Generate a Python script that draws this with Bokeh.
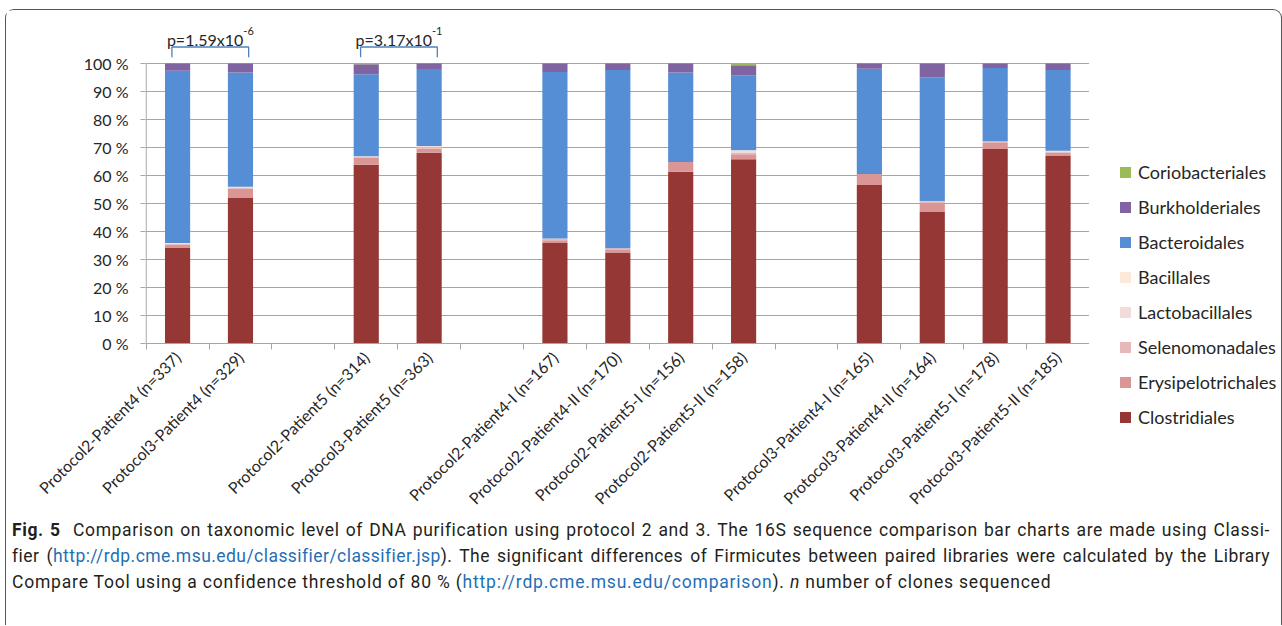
import math
from bokeh.plotting import figure
from bokeh.models import ColumnDataSource, FixedTicker, Range1d, Div
from bokeh.layouts import column, row
from bokeh.core.properties import value
from bokeh.embed import file_html
from bokeh.resources import INLINE

# ---------------- data ----------------
slot_labels = [
    "Protocol2-Patient4 (n=337)", "Protocol3-Patient4 (n=329)", "",
    "Protocol2-Patient5 (n=314)", "Protocol3-Patient5 (n=363)", "",
    "Protocol2-Patient4-I (n=167)", "Protocol2-Patient4-II (n=170)",
    "Protocol2-Patient5-I (n=156)", "Protocol2-Patient5-II (n=158)", "",
    "Protocol3-Patient4-I (n=165)", "Protocol3-Patient4-II (n=164)",
    "Protocol3-Patient5-I (n=178)", "Protocol3-Patient5-II (n=185)",
]

orders = ["Clostridiales", "Erysipelotrichales", "Selenomonadales", "Lactobacillales",
          "Bacillales", "Bacteroidales", "Burkholderiales", "Coriobacteriales"]
colors = ["#953735", "#d99694", "#e6b9b8", "#f2dcdb",
          "#fde9d9", "#558ed5", "#8064a2", "#9bbb59"]

clostridiales      = [34.1, 52.1, 63.8, 68.1, 35.9, 32.5, 61.3, 65.8, 56.6, 47.0, 69.5, 67.0]
erysipelotrichales = [1.2, 3.3, 2.6, 1.5, 1.0, 0.9, 3.5, 1.8, 3.9, 3.2, 2.1, 1.1]
selenomonadales    = [0.3, 0.3, 0.3, 0.6, 0.6, 0.6, 0.0, 0.6, 0.0, 0.3, 0.6, 0.5]
lactobacillales    = [0.3, 0.3, 0.2, 0.3, 0.0, 0.0, 0.0, 0.6, 0.0, 0.3, 0.0, 0.2]
bacillales         = [0.0, 0.0, 0.0, 0.0, 0.0, 0.0, 0.0, 0.2, 0.0, 0.0, 0.0, 0.0]
bacteroidales      = [61.5, 40.8, 29.3, 27.5, 59.5, 63.7, 32.0, 26.8, 37.6, 44.3, 26.2, 28.9]
burkholderiales    = [2.6, 3.2, 3.5, 2.0, 3.0, 2.3, 3.2, 3.6, 1.9, 4.9, 1.6, 2.3]
coriobacteriales   = [0.0, 0.0, 0.3, 0.0, 0.0, 0.0, 0.0, 0.6, 0.0, 0.0, 0.0, 0.0]

y_ticks = list(range(0, 101, 10))

# significance brackets: (bar index a, bar index b, mantissa, exponent)
p_pairs = [(0, 1, "1.59", "-6"), (2, 3, "3.17", "-1")]

# ---------------- main figure ----------------
bar_slots = [i for i, lab in enumerate(slot_labels) if lab]
xs = [i + 0.5 for i in bar_slots]

src = ColumnDataSource(dict(
    x=xs,
    Clostridiales=clostridiales, Erysipelotrichales=erysipelotrichales,
    Selenomonadales=selenomonadales, Lactobacillales=lactobacillales,
    Bacillales=bacillales, Bacteroidales=bacteroidales,
    Burkholderiales=burkholderiales, Coriobacteriales=coriobacteriales,
))

FONT = "Lato"
TXT = "#262626"
GRID = "#a6a6a6"
FIG_H = 518

p = figure(width=1083, height=FIG_H, x_range=Range1d(-0.01, len(slot_labels)),
           y_range=Range1d(0, 115), output_backend="svg", toolbar_location=None,
           min_border_left=139, min_border_right=0, min_border_top=11,
           min_border_bottom=185)
p.outline_line_color = None
p.background_fill_color = "white"
p.border_fill_color = "white"

rs = p.vbar_stack(orders, x="x", width=0.4, color=colors, source=src, line_color=None)

p.xgrid.visible = False
p.ygrid.ticker = FixedTicker(ticks=y_ticks)
p.ygrid.grid_line_color = GRID
p.ygrid.grid_line_width = 1.2

p.yaxis.ticker = FixedTicker(ticks=y_ticks)
p.yaxis.major_label_overrides = {t: f"{t} %" for t in y_ticks}
p.yaxis.axis_line_color = None
p.yaxis.major_tick_out = 5
p.yaxis.major_tick_in = 0
p.yaxis.major_tick_line_color = GRID
p.yaxis.minor_tick_line_color = None
p.yaxis.major_label_text_font = FONT
p.yaxis.major_label_text_font_size = "16px"
p.yaxis.major_label_text_color = TXT
p.yaxis.major_label_standoff = 12

p.xaxis.ticker = FixedTicker(ticks=xs, minor_ticks=list(range(len(slot_labels) + 1)))
p.xaxis.major_label_overrides = {x: slot_labels[i] for x, i in zip(xs, bar_slots)}
p.xaxis.major_label_orientation = math.pi / 4
p.xaxis.major_tick_line_color = None
p.xaxis.major_tick_out = 0
p.xaxis.major_tick_in = 0
p.xaxis.minor_tick_out = 6
p.xaxis.minor_tick_in = 0
p.xaxis.minor_tick_line_color = GRID
p.xaxis.axis_line_color = GRID
p.xaxis.axis_line_width = 1.2
p.xaxis.major_label_text_font = FONT
p.xaxis.major_label_text_font_size = "16px"
p.xaxis.major_label_text_color = TXT
p.xaxis.major_label_standoff = 5

# vertical axis line, only up to 100 %
p.segment(x0=[0], y0=[0], x1=[0], y1=[100], line_color=GRID, line_width=1.2)

# significance brackets
BR = "#4f81bd"
for a, b, mant, exp in p_pairs:
    l = xs[a] - 0.09
    r = xs[b] + 0.13
    c = (l + r) / 2
    p.line(x=[l, l, r, r], y=[102.2, 105.9, 105.9, 102.2], line_color=BR, line_width=1.3)
    end = c + 0.525
    p.text(x=[end], y=[108.7], text=[f"p={mant}x10"], text_align="right",
           text_baseline="alphabetic", text_font=value(FONT), text_font_size="16px",
           text_color=TXT)
    p.text(x=[end], y=[111.6], text=[exp], text_align="left",
           text_baseline="alphabetic", text_font=value(FONT), text_font_size="11px",
           text_color=TXT)

# ---------------- legend (HTML, right of the plot) ----------------
rows_html = "".join(
    f'<div style="height:35px; display:flex; align-items:center;">'
    f'<span style="display:inline-block; width:11px; height:11px; background:{c}; margin-left:31px;"></span>'
    f'<span style="margin-left:7px;">{n}</span></div>'
    for n, c in list(zip(orders, colors))[::-1]
)
legend_div = Div(
    text=f'<div style="padding-top:145px; font-family:Lato; font-size:18px; color:{TXT};">{rows_html}</div>',
    width=192, height=FIG_H, margin=0)

# ---------------- caption ----------------
LINK = "#1f6fb6"
JL = "white-space:nowrap; text-align:justify; text-align-last:justify;"
caption_html = f"""
<div style="font-family:Roboto; font-size:17.5px; line-height:26px; color:#231f20; width:1258px;">
<div style="{JL} letter-spacing:0.6px;"><b>Fig.&nbsp;5</b>&nbsp; Comparison on taxonomic level of DNA purification using protocol 2 and 3. The 16S sequence comparison bar charts are made using Classi-</div>
<div style="{JL} letter-spacing:0.45px;">fier (<span style="color:{LINK}">http://rdp.cme.msu.edu/classifier/classifier.jsp</span>). The significant differences of Firmicutes between paired libraries were calculated by the Library</div>
<div style="white-space:nowrap; letter-spacing:0.8px;">Compare Tool using a confidence threshold of 80&nbsp;% (<span style="color:{LINK}">http://rdp.cme.msu.edu/comparison</span>). <i>n</i> number of clones sequenced</div>
</div>
"""
div = Div(text=caption_html, width=1258, height=108, margin=(-11, 0, 0, 6))

layout = column(row(p, legend_div), div, margin=(9, 0, 0, 5),
                styles={"border": "1px solid #555555", "border-bottom": "none",
                        "border-radius": "9px 9px 0 0"})

open("out.html", "w").write(file_html(layout, INLINE))
